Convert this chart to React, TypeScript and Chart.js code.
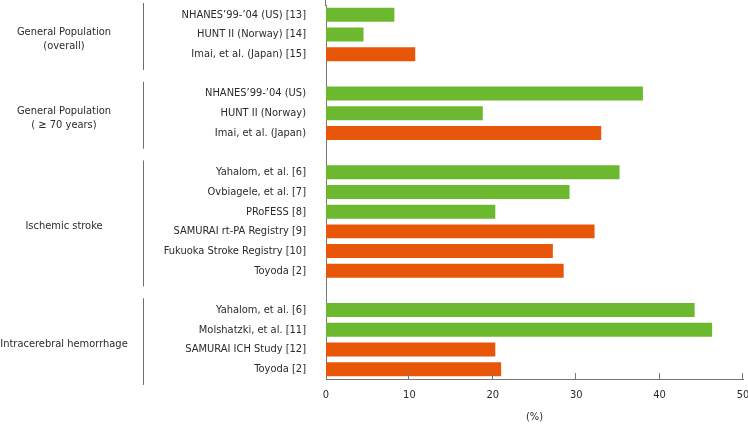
import React, { useEffect, useRef } from "react";
import { Chart, registerables } from "chart.js";

Chart.register(...registerables);

const categories = [
  "NHANES\u201999-\u201904 (US) [13]",
  "HUNT II (Norway) [14]",
  "Imai, et al. (Japan) [15]",
  "",
  "NHANES\u201999-\u201904 (US)",
  "HUNT II (Norway)",
  "Imai, et al. (Japan)",
  "",
  "Yahalom, et al. [6]",
  "Ovbiagele, et al. [7]",
  "PRoFESS [8]",
  "SAMURAI rt-PA Registry [9]",
  "Fukuoka Stroke Registry [10]",
  "Toyoda [2]",
  "",
  "Yahalom, et al. [6]",
  "Molshatzki, et al. [11]",
  "SAMURAI ICH Study [12]",
  "Toyoda [2]",
];

const values = [
  8.2, 4.5, 10.7, null,
  38.0, 18.8, 33.0, null,
  35.2, 29.2, 20.3, 32.2, 27.2, 28.5, null,
  44.2, 46.3, 20.3, 21.0,
];

// true = Japanese study (orange), false = Western study (green)
const japanese = [
  false, false, true, false,
  false, false, true, false,
  false, false, false, true, true, true, false,
  false, false, true, true,
];

const groupLabels = [
  ["General Population", "(overall)"],
  ["General Population", "( \u2265 70 years)"],
  ["Ischemic stroke"],
  ["Intracerebral hemorrhage"],
];
const groupFirst = [0, 4, 8, 15];
const groupLast = [2, 6, 13, 18];

const xTicks = [0, 10, 20, 30, 40, 50];
const xTitle = "(%)";

const GREEN = "#6cb82e";
const ORANGE = "#e8560a";
const TEXT = "#2b2b2b";
const AXIS = "#777777";
const FONT = "'DejaVu Sans Condensed', 'Liberation Sans Narrow', Roboto, sans-serif";
const FS = 11;

const groupPlugin = {
  id: "groupPlugin",
  afterDraw(chart: any) {
    const ctx = chart.ctx;
    const y = chart.scales.y;
    const x = chart.scales.x;
    const area = chart.chartArea;
    const slot = Math.abs(y.getPixelForValue(1) - y.getPixelForValue(0));
    ctx.save();
    ctx.strokeStyle = "#6e6e6e";
    ctx.lineWidth = 1;
    ctx.fillStyle = TEXT;
    ctx.font = FS + "px " + FONT;
    ctx.textAlign = "center";
    ctx.textBaseline = "middle";
    for (let g = 0; g < groupFirst.length; g++) {
      const p1 = y.getPixelForValue(groupFirst[g]);
      const p2 = y.getPixelForValue(groupLast[g]);
      const top = Math.max(0, p1 - 0.6 * slot);
      const bottom = p2 + 0.8 * slot;
      ctx.beginPath();
      ctx.moveTo(143.5, top);
      ctx.lineTo(143.5, bottom);
      ctx.stroke();
      const mid = (p1 + p2) / 2 + 5;
      const lines = groupLabels[g];
      const lh = 14;
      lines.forEach((t, i) => {
        ctx.fillText(t, 64, mid + (i - (lines.length - 1) / 2) * lh);
      });
    }
    ctx.strokeStyle = AXIS;
    x.ticks.forEach((t: any) => {
      if (t.value === 0) return;
      const px = Math.round(x.getPixelForValue(t.value)) - 0.5;
      ctx.beginPath();
      ctx.moveTo(px, area.bottom - 6);
      ctx.lineTo(px, area.bottom);
      ctx.stroke();
    });
    const lx = Math.round(area.left) - 0.5;
    ctx.beginPath();
    ctx.moveTo(lx, 0);
    ctx.lineTo(lx, area.top + 1);
    ctx.stroke();
    ctx.restore();
  },
};

export default function App() {
  const ref = useRef<HTMLCanvasElement | null>(null);
  useEffect(() => {
    if (!ref.current) return;
    const chart = new Chart(ref.current, {
      type: "bar",
      data: {
        labels: categories,
        datasets: [
          {
            data: values as any,
            backgroundColor: japanese.map((j) => (j ? ORANGE : GREEN)),
            borderWidth: 0,
            barPercentage: 0.71,
            categoryPercentage: 1,
          },
        ],
      },
      options: {
        indexAxis: "y",
        animation: false,
        responsive: true,
        maintainAspectRatio: false,
        layout: { padding: { top: 5, right: 5, left: 0, bottom: 0 } },
        plugins: { legend: { display: false }, tooltip: { enabled: false } },
        scales: {
          x: {
            min: 0,
            max: 50,
            afterBuildTicks: (s: any) => {
              s.ticks = xTicks.map((v) => ({ value: v }));
            },
            afterFit: (s: any) => {
              s.height = 45;
              s.paddingLeft = 0;
              s.paddingRight = 0;
            },
            grid: { display: false, drawTicks: false },
            border: { color: AXIS, width: 1 },
            ticks: { color: TEXT, font: { family: FONT, size: FS }, padding: 10, maxRotation: 0 },
            title: {
              display: true,
              text: xTitle,
              color: TEXT,
              font: { family: FONT, size: FS },
              padding: { top: 0, bottom: 0 },
            },
          },
          y: {
            afterFit: (s: any) => {
              s.width = 326;
              s.paddingTop = 0;
              s.paddingBottom = 0;
            },
            grid: { display: false, drawTicks: false },
            border: { color: AXIS, width: 1 },
            ticks: { color: TEXT, font: { family: FONT, size: FS }, padding: 20, autoSkip: false },
          },
        },
      },
      plugins: [groupPlugin],
    });
    return () => chart.destroy();
  }, []);
  return (
    <div style={{ position: "fixed", left: 0, top: 0, width: 748, height: 424, background: "#fff" }}>
      <canvas ref={ref} />
    </div>
  );
}
